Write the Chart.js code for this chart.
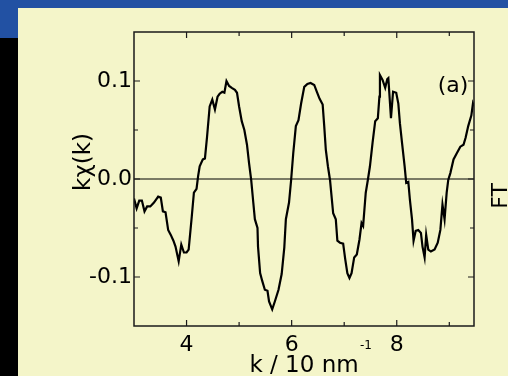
<!DOCTYPE html>
<html>
<head>
<meta charset="utf-8">
<script src="https://cdn.jsdelivr.net/npm/chart.js@4.4.0/dist/chart.umd.min.js"></script>
<style>
  html, body { margin: 0; padding: 0; }
  body { width: 508px; height: 376px; position: relative; overflow: hidden; background: #000; }
  #topbar { position: absolute; left: 0; top: 0; width: 508px; height: 8px; background: #2251a3; }
  #sidebar { position: absolute; left: 0; top: 8px; width: 18px; height: 30px; background: #2251a3; }
  #panel { position: absolute; left: 18px; top: 8px; width: 490px; height: 368px; background: #f4f5c9; }
  #c { position: absolute; left: 0; top: 0; }
</style>
</head>
<body>
<div id="topbar"></div>
<div id="sidebar"></div>
<div id="panel"></div>
<canvas id="c" width="508" height="376"></canvas>
<script>
/* EXAFS oscillation k*chi(k), panel (a) */

var kValues = [
  3.00, 3.05, 3.10, 3.15, 3.20, 3.25, 3.31, 3.38, 3.46, 3.51, 3.55, 3.60, 3.65, 3.70, 3.75, 3.79,
  3.85, 3.90, 3.95, 4.00, 4.04, 4.10, 4.14, 4.19, 4.22, 4.25, 4.31, 4.35, 4.39, 4.44, 4.49, 4.54,
  4.59, 4.63, 4.68, 4.72, 4.76, 4.81, 4.86, 4.92, 4.96, 5.00, 5.05, 5.10, 5.15, 5.19, 5.23, 5.27,
  5.30, 5.35, 5.36, 5.40, 5.44, 5.49, 5.54, 5.57, 5.63, 5.68, 5.75, 5.81, 5.86, 5.89, 5.95, 5.99,
  6.03, 6.08, 6.13, 6.18, 6.24, 6.30, 6.36, 6.43, 6.48, 6.53, 6.59, 6.62, 6.65, 6.69, 6.73, 6.76,
  6.79, 6.84, 6.87, 6.92, 6.98, 7.02, 7.06, 7.10, 7.14, 7.19, 7.24, 7.29, 7.33, 7.36, 7.41, 7.45,
  7.49, 7.54, 7.59, 7.64, 7.67, 7.68, 7.73, 7.78, 7.82, 7.84, 7.89, 7.93, 7.99, 8.03, 8.06, 8.10,
  8.15, 8.18, 8.22, 8.25, 8.29, 8.32, 8.36, 8.41, 8.46, 8.49, 8.53, 8.56, 8.60, 8.65, 8.72, 8.78,
  8.83, 8.87, 8.91, 8.95, 8.98, 9.02, 9.08, 9.14, 9.21, 9.27, 9.31, 9.36, 9.42, 9.45, 9.47
];

var chiValues = [
  -0.020, -0.030, -0.022, -0.022, -0.033, -0.028, -0.028, -0.024, -0.018, -0.019, -0.033, -0.034, -0.052, -0.057, -0.063, -0.069,
  -0.084, -0.067, -0.075, -0.075, -0.072, -0.038, -0.014, -0.010, 0.003, 0.013, 0.020, 0.021, 0.043, 0.074, 0.081, 0.071,
  0.084, 0.087, 0.089, 0.088, 0.100, 0.095, 0.093, 0.091, 0.088, 0.074, 0.059, 0.050, 0.035, 0.016, -0.001, -0.024,
  -0.041, -0.050, -0.069, -0.096, -0.104, -0.113, -0.114, -0.125, -0.133, -0.125, -0.113, -0.097, -0.070, -0.041, -0.024, -0.001,
  0.026, 0.054, 0.060, 0.077, 0.094, 0.097, 0.098, 0.096, 0.089, 0.082, 0.076, 0.054, 0.030, 0.013, -0.001, -0.018,
  -0.035, -0.041, -0.063, -0.065, -0.066, -0.082, -0.096, -0.101, -0.096, -0.080, -0.077, -0.062, -0.045, -0.048, -0.014, -0.001,
  0.013, 0.037, 0.059, 0.062, 0.084, 0.106, 0.101, 0.093, 0.102, 0.103, 0.062, 0.089, 0.088, 0.077, 0.057, 0.037,
  0.013, -0.004, -0.003, -0.021, -0.041, -0.063, -0.053, -0.052, -0.055, -0.069, -0.080, -0.057, -0.072, -0.074, -0.072, -0.065,
  -0.052, -0.026, -0.041, -0.014, -0.001, 0.006, 0.020, 0.026, 0.033, 0.035, 0.042, 0.054, 0.065, 0.077, 0.074
];

var xMajorTicks = [4, 6, 8];
var xMinorTicks = [5, 7, 9];
var yMajorTicks = [-0.1, 0, 0.1];
var yMinorTicks = [-0.05, 0.05];

var points = kValues.map(function (k, i) { return { x: k, y: chiValues[i] }; });

var FONT = 'DejaVu Sans';

// frame, inward ticks, zero line and loose labels
var frameAndLabels = {
  id: 'frameAndLabels',
  afterDraw: function (chart) {
    var ctx = chart.ctx;
    var a = chart.chartArea;
    var xs = chart.scales.x, ys = chart.scales.y;
    ctx.save();

    // zero line
    var y0 = ys.getPixelForValue(0);
    ctx.strokeStyle = '#000';
    ctx.lineWidth = 1;
    ctx.beginPath();
    ctx.moveTo(a.left, y0);
    ctx.lineTo(a.right, y0);
    ctx.stroke();

    // frame
    ctx.strokeStyle = '#1a1a1a';
    ctx.lineWidth = 1.5;
    ctx.strokeRect(a.left, a.top, a.right - a.left, a.bottom - a.top);

    // ticks, pointing inward on all four sides
    ctx.lineWidth = 1.2;
    function xt(v, len) {
      var p = xs.getPixelForValue(v);
      ctx.beginPath();
      ctx.moveTo(p, a.bottom); ctx.lineTo(p, a.bottom - len);
      ctx.moveTo(p, a.top); ctx.lineTo(p, a.top + len);
      ctx.stroke();
    }
    function yt(v, len) {
      var p = ys.getPixelForValue(v);
      ctx.beginPath();
      ctx.moveTo(a.left, p); ctx.lineTo(a.left + len, p);
      ctx.moveTo(a.right, p); ctx.lineTo(a.right - len, p);
      ctx.stroke();
    }
    xMajorTicks.forEach(function (v) { xt(v, 6); });
    xMinorTicks.forEach(function (v) { xt(v, 4); });
    yMajorTicks.forEach(function (v) { yt(v, 6); });
    yMinorTicks.forEach(function (v) { yt(v, 4); });

    ctx.fillStyle = '#000';
    ctx.textAlign = 'center';
    ctx.textBaseline = 'middle';

    // y title
    ctx.save();
    ctx.translate(84, 162);
    ctx.rotate(-Math.PI / 2);
    ctx.font = '23px "' + FONT + '"';
    ctx.fillText('kχ(k)', 0, 0);
    ctx.restore();

    // right-hand "FT" (cut by the window edge)
    ctx.save();
    ctx.translate(501, 196);
    ctx.rotate(-Math.PI / 2);
    ctx.font = '22px "' + FONT + '"';
    ctx.fillText('FT', 0, 0);
    ctx.restore();

    ctx.font = '22px "' + FONT + '"';
    ctx.fillText('(a)', 453, 86);

    ctx.font = '12px "' + FONT + '"';
    ctx.fillText('-1', 366, 346);

    ctx.restore();
  }
};

new Chart(document.getElementById('c'), {
  type: 'scatter',
  data: {
    datasets: [{
      data: points,
      showLine: true,
      borderColor: '#000',
      borderWidth: 2.2,
      pointRadius: 0,
      tension: 0,
      fill: false,
    }],
  },
  options: {
    responsive: false,
    animation: false,
    devicePixelRatio: 1,
    layout: { padding: { left: 0, top: 32, right: 34, bottom: 0 } },
    plugins: { legend: { display: false }, tooltip: { enabled: false } },
    scales: {
      x: {
        type: 'linear',
        min: 3,
        max: 9.47,
        afterBuildTicks: function (s) { s.ticks = xMajorTicks.map(function (v) { return { value: v }; }); },
        afterFit: function (s) { s.height = 50; },
        grid: { display: false, drawTicks: false },
        border: { display: false },
        ticks: {
          color: '#000',
          padding: 8,
          maxRotation: 0,
          font: { family: FONT, size: 22, lineHeight: 1 },
          callback: function (v) { return String(v); },
        },
        title: {
          display: true,
          text: 'k / 10 nm',
          color: '#000',
          padding: { top: 0, bottom: 0 },
          font: { family: FONT, size: 23, lineHeight: 0.9 },
        },
      },
      y: {
        type: 'linear',
        min: -0.15,
        max: 0.15,
        afterBuildTicks: function (s) { s.ticks = yMajorTicks.map(function (v) { return { value: v }; }); },
        afterFit: function (s) { s.width = 134; },
        grid: { display: false, drawTicks: false },
        border: { display: false },
        ticks: {
          color: '#000',
          padding: 2,
          font: { family: FONT, size: 22, lineHeight: 1 },
          callback: function (v) { return (Math.abs(v) < 1e-9 ? 0 : v).toFixed(1); },
        },
      },
    },
  },
  plugins: [frameAndLabels],
});
</script>
</body>
</html>
